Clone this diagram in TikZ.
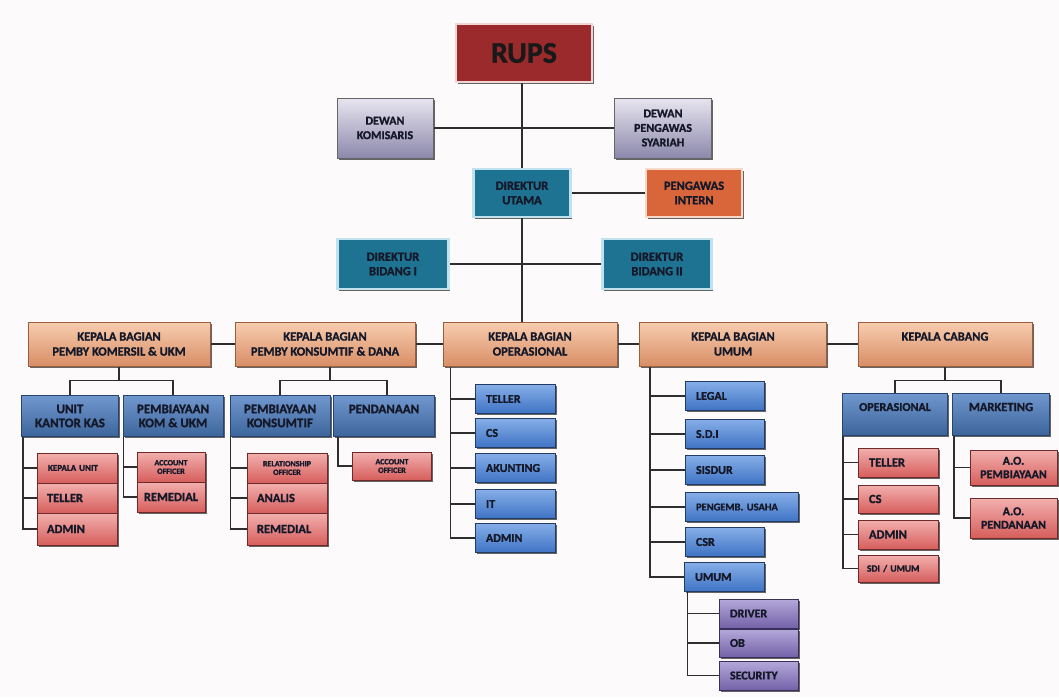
\documentclass[tikz,border=0pt]{standalone}
\usepackage{fontspec}
\setmainfont{Carlito}[BoldFeatures={FakeBold=1.3}]
\usetikzlibrary{calc,shadows,backgrounds}
\newcommand\myfs[2]{\fontsize{#1}{#2}\selectfont}
\definecolor{ink}{HTML}{141828}
\definecolor{wire}{HTML}{2E2E2E}
\definecolor{rupsfill}{HTML}{9B2A2D}
\definecolor{rupsrim}{HTML}{F3D6D3}
\definecolor{dewtop}{HTML}{E8E5F0}
\definecolor{dewbot}{HTML}{8C88AB}
\definecolor{tealfill}{HTML}{1F7392}
\definecolor{tealrim}{HTML}{BFE2EE}
\definecolor{orgfill}{HTML}{D8663A}
\definecolor{orgrim}{HTML}{F7D9C8}
\definecolor{pchtop}{HTML}{F8CDB0}
\definecolor{pchbot}{HTML}{D88E65}
\definecolor{pchline}{HTML}{9A5E3E}
\definecolor{hdtop}{HTML}{7198CE}
\definecolor{hdbot}{HTML}{3C659C}
\definecolor{hdline}{HTML}{27446E}
\definecolor{sbtop}{HTML}{86AEE8}
\definecolor{sbbot}{HTML}{3E73C4}
\definecolor{sbline}{HTML}{223C66}
\definecolor{rdtop}{HTML}{F2B0AE}
\definecolor{rdbot}{HTML}{D65E5C}
\definecolor{rdline}{HTML}{6E2A2A}
\definecolor{pptop}{HTML}{B4A8DA}
\definecolor{ppbot}{HTML}{7462A8}
\definecolor{ppline}{HTML}{38305A}
\definecolor{paper}{HTML}{FCFAFA}
\tikzset{
  base/.style={rectangle, inner sep=0pt, font=\bfseries, text=ink,
    drop shadow={shadow xshift=1.5pt, shadow yshift=-1.5pt, opacity=.75, fill=black!80}},
  rupsbox/.style={base, fill=rupsfill, draw=rupsrim, line width=2.5pt, font=\bfseries\myfs{30}{31}, text=black!90},
  dewanbox/.style={base, top color=dewtop, bottom color=dewbot, draw=black!60, line width=0.8pt, align=center, font=\bfseries\myfs{12}{14.5}},
  tealbox/.style={base, fill=tealfill, draw=tealrim, line width=2.5pt, align=center, text=ink, font=\bfseries\myfs{12.5}{14.5}},
  orgbox/.style={base, fill=orgfill, draw=orgrim, line width=2.5pt, align=center, text=ink, font=\bfseries\myfs{12.5}{14.5}},
  kbbox/.style={base, top color=pchtop, bottom color=pchbot, draw=pchline, line width=0.8pt, align=center, minimum height=44pt, font=\bfseries\myfs{12.5}{15}},
  hdbox/.style={base, top color=hdtop, bottom color=hdbot, draw=hdline, line width=0.8pt, align=center, minimum height=41pt, font=\bfseries\myfs{13}{14}},
  sbbox/.style={base, top color=sbtop, bottom color=sbbot, draw=sbline, line width=0.8pt, align=left, minimum height=29pt, font=\bfseries\myfs{12}{14}},
  rdbox/.style={base, top color=rdtop, bottom color=rdbot, draw=rdline, line width=0.8pt, minimum height=30pt, font=\bfseries\myfs{12.5}{14}},
  ppbox/.style={base, top color=pptop, bottom color=ppbot, draw=ppline, line width=0.8pt, align=left, minimum height=29pt, font=\bfseries\myfs{12}{14}},
  tinytxt/.style={font=\bfseries\myfs{8}{8.5}},
  wirestyle/.style={draw=wire, line width=1.3pt},
}
\begin{document}
\begin{tikzpicture}[x=1pt, y=-1pt]
\useasboundingbox (0,0) rectangle (1059,697);

% ---- top level ----
\node[rupsbox, minimum width=136pt, minimum height=58pt] (rups) at (524,53) {RUPS};
\node[dewanbox, minimum width=96pt, minimum height=60pt] (komis) at (385,128) {DEWAN\\KOMISARIS};
\node[dewanbox, minimum width=97pt, minimum height=60pt] (dps) at (663,128) {DEWAN\\PENGAWAS\\SYARIAH};
\node[tealbox, minimum width=97pt, minimum height=48pt] (dirut) at (522,193) {DIREKTUR\\UTAMA};
\node[orgbox, minimum width=96pt, minimum height=48pt] (pint) at (694,193) {PENGAWAS\\INTERN};
\node[tealbox, minimum width=111pt, minimum height=50pt] (dir1) at (393,264) {DIREKTUR\\BIDANG I};
\node[tealbox, minimum width=109pt, minimum height=50pt] (dir2) at (657,264) {DIREKTUR\\BIDANG II};

% ---- kepala bagian ----
\node[kbbox, minimum width=182pt] (kb1) at (119,344) {KEPALA BAGIAN\\PEMBY KOMERSIL \& UKM};
\node[kbbox, minimum width=180pt] (kb2) at (325,344) {KEPALA BAGIAN\\PEMBY KONSUMTIF \& DANA};
\node[kbbox, minimum width=174pt] (kb3) at (530,344) {KEPALA BAGIAN\\OPERASIONAL};
\node[kbbox, minimum width=187pt] (kb4) at (733,344) {KEPALA BAGIAN\\UMUM};
\node[kbbox, minimum width=174pt] (kb5) at (945,344) {KEPALA CABANG\\\phantom{X}};

% ---- headers ----
\node[hdbox, minimum width=97pt] (ukk) at (70,416) {UNIT\\KANTOR KAS};
\node[hdbox, minimum width=100pt] (pku) at (173,416) {PEMBIAYAAN\\KOM \& UKM};
\node[hdbox, minimum width=100pt] (pk) at (280,416) {PEMBIAYAAN\\KONSUMTIF};
\node[hdbox, minimum width=101pt] (pdn) at (384,416) {PENDANAAN\\\phantom{X}};
\node[hdbox, minimum width=105pt, minimum height=42pt, font=\bfseries\myfs{12}{14}] (ops) at (895,414) {OPERASIONAL\\\phantom{X}};
\node[hdbox, minimum width=97pt, minimum height=42pt, font=\bfseries\myfs{12.5}{14}] (mkt) at (1001,414) {MARKETING\\\phantom{X}};

% ---- red boxes under UNIT KANTOR KAS ----
\node[rdbox, minimum width=80pt, text width=58pt, align=left, font=\bfseries\myfs{9}{10}] (ku) at (77,468) {KEPALA UNIT};
\node[rdbox, minimum width=80pt, text width=60pt, align=left] (tl1) at (77,498) {TELLER};
\node[rdbox, minimum width=80pt, text width=60pt, align=left, minimum height=32pt] (ad1) at (77,529) {ADMIN};
% under PEMBIAYAAN KOM & UKM
\node[rdbox, minimum width=68pt, align=center, tinytxt] (ao1) at (171,467) {ACCOUNT\\OFFICER};
\node[rdbox, minimum width=68pt, align=center] (rm1) at (171,497) {REMEDIAL};
% under PEMBIAYAAN KONSUMTIF
\node[rdbox, minimum width=80pt, align=center, tinytxt] (ro) at (287,468) {RELATIONSHIP\\OFFICER};
\node[rdbox, minimum width=80pt, text width=60pt, align=left] (an) at (287,498) {ANALIS};
\node[rdbox, minimum width=80pt, text width=60pt, align=left, minimum height=32pt] (rm2) at (287,529) {REMEDIAL};
% under PENDANAAN
\node[rdbox, minimum width=79pt, minimum height=28pt, align=center, tinytxt] (ao2) at (392,466) {ACCOUNT\\OFFICER};

% ---- blue boxes under OPERASIONAL ----
\node[sbbox, minimum width=80pt, text width=58pt] (o1) at (515,399) {TELLER};
\node[sbbox, minimum width=80pt, text width=58pt] (o2) at (515,433) {CS};
\node[sbbox, minimum width=80pt, text width=58pt] (o3) at (515,468) {AKUNTING};
\node[sbbox, minimum width=80pt, text width=58pt] (o4) at (515,504) {IT};
\node[sbbox, minimum width=80pt, text width=58pt] (o5) at (515,538) {ADMIN};

% ---- blue boxes under UMUM ----
\node[sbbox, minimum width=79pt, text width=57pt] (u1) at (724.5,396) {LEGAL};
\node[sbbox, minimum width=79pt, text width=57pt] (u2) at (724.5,434) {S.D.I};
\node[sbbox, minimum width=79pt, text width=57pt] (u3) at (724.5,470) {SISDUR};
\node[sbbox, minimum width=113pt, text width=91pt, font=\bfseries\myfs{10.5}{12}] (u4) at (741.5,507) {PENGEMB. USAHA};
\node[sbbox, minimum width=79pt, text width=57pt] (u5) at (724.5,542) {CSR};
\node[sbbox, minimum width=80pt, text width=58pt] (u6) at (724,577) {UMUM};

% ---- purple ----
\node[ppbox, minimum width=79pt, text width=57pt] (p1) at (758.5,613.5) {DRIVER};
\node[ppbox, minimum width=79pt, text width=57pt, minimum height=28pt] (p2) at (758.5,643) {OB};
\node[ppbox, minimum width=79pt, text width=57pt] (p3) at (758.5,675.5) {SECURITY};

% ---- red under cabang OPERASIONAL ----
\node[rdbox, minimum width=80pt, text width=58pt, align=left, minimum height=29pt] (c1) at (898,462.5) {TELLER};
\node[rdbox, minimum width=80pt, text width=58pt, align=left, minimum height=28pt] (c2) at (898,499) {CS};
\node[rdbox, minimum width=80pt, text width=58pt, align=left, minimum height=29pt] (c3) at (898,534.5) {ADMIN};
\node[rdbox, minimum width=80pt, text width=62pt, align=left, minimum height=27pt, font=\bfseries\myfs{9.5}{10}] (c4) at (898,568.5) {SDI / UMUM};
% under MARKETING
\node[rdbox, minimum width=87pt, minimum height=35pt, align=center, font=\bfseries\myfs{12}{13.5}] (m1) at (1013.5,467.5) {A.O.\\PEMBIAYAAN};
\node[rdbox, minimum width=87pt, minimum height=40pt, align=center, font=\bfseries\myfs{12}{13.5}] (m2) at (1013.5,518) {A.O.\\PENDANAAN};

% ================= connectors =================
\begin{pgfonlayer}{background}
\fill[paper] (0,0) rectangle (1059,697);
\draw[wirestyle] (rups.south -| dirut.center) -- (dirut.center |- kb3.north);
\draw[wirestyle] (komis.east) -- (dps.west);
\draw[wirestyle] (dirut.east) -- (pint.west);
\draw[wirestyle] (dir1.east) -- (dir2.west);
\draw[wirestyle] (kb1.east) -- (kb2.west);
\draw[wirestyle] (kb2.east) -- (kb3.west);
\draw[wirestyle] (kb3.east) -- (kb4.west);
\draw[wirestyle] (kb4.east) -- (kb5.west);

% bus trees
\draw[wirestyle] (kb1.south) -- ++(0,14) -| (ukk.north);
\draw[wirestyle] (kb1.south) -- ++(0,14) -| (pku.north);
\draw[wirestyle] ($(kb2.south)+(5,0)$) -- ++(0,14) -| (pk.north);
\draw[wirestyle] ($(kb2.south)+(5,0)$) -- ++(0,14) -| ($(pdn.north)+(3,0)$);
\draw[wirestyle] (kb5.south) -- ++(0,14) -| (ops.north);
\draw[wirestyle] (kb5.south) -- ++(0,14) -| (mkt.north);

% spines
\coordinate (s1) at ($(ukk.south west)+(2,0)$);
\draw[wirestyle] (s1) |- (ku.west);
\draw[wirestyle] (s1) |- (tl1.west);
\draw[wirestyle] (s1) |- (ad1.west);
\coordinate (s2) at ($(pku.south west)+(1,0)$);
\draw[wirestyle] (s2) |- (ao1.west);
\draw[wirestyle] (s2) |- (rm1.west);
\coordinate (s3) at ($(pk.south west)+(1,0)$);
\draw[wirestyle] (s3) |- (ro.west);
\draw[wirestyle] (s3) |- (an.west);
\draw[wirestyle] (s3) |- (rm2.west);
\coordinate (s4) at ($(pdn.south west)+(5,0)$);
\draw[wirestyle] (s4) |- (ao2.west);
\coordinate (s5) at ($(kb3.south west)+(8,0)$);
\foreach \n in {o1,o2,o3,o4,o5} \draw[wirestyle] (s5) |- (\n.west);
\coordinate (s6) at ($(kb4.south west)+(11,0)$);
\foreach \n in {u1,u2,u3,u4,u5,u6} \draw[wirestyle] (s6) |- (\n.west);
\coordinate (s7) at ($(u6.south west)+(4,0)$);
\foreach \n in {p1,p2,p3} \draw[wirestyle] (s7) |- (\n.west);
\coordinate (s8) at ($(ops.south west)+(1,0)$);
\foreach \n in {c1,c2,c3,c4} \draw[wirestyle] (s8) |- (\n.west);
\coordinate (s9) at ($(mkt.south west)+(2,0)$);
\foreach \n in {m1,m2} \draw[wirestyle] (s9) |- (\n.west);
\end{pgfonlayer}
\end{tikzpicture}
\end{document}
